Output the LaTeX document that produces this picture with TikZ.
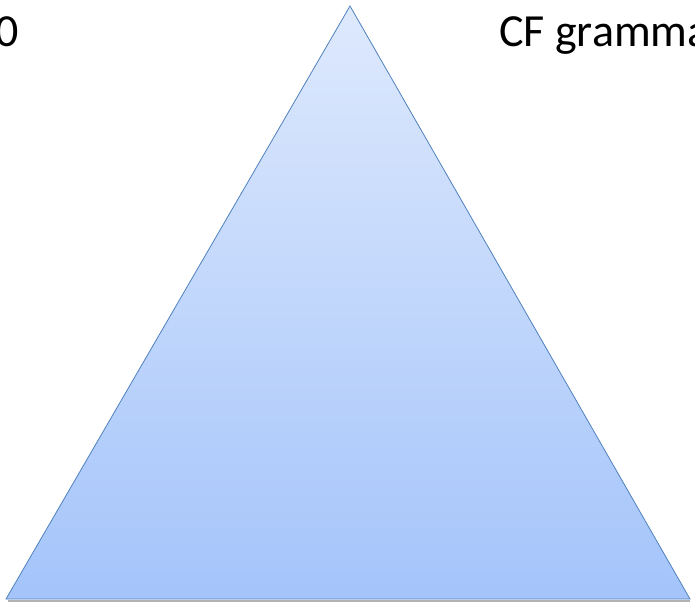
\documentclass[tikz,border=0pt]{standalone}
\usepackage{fontspec}
\setmainfont{Carlito}
\usetikzlibrary{shadings}
\definecolor{triTop}{RGB}{222,233,253}
\definecolor{triBot}{RGB}{164,196,250}
\definecolor{triLine}{RGB}{79,129,189}
\begin{document}
\begin{tikzpicture}[
    x=1pt, y=-1pt,
    label/.style={font=\fontsize{46}{54}\selectfont, inner sep=0pt},
    tri/.style={draw=triLine, line width=0.8pt, top color=triTop, bottom color=triBot}
]
\useasboundingbox (0,0) rectangle (695,602);

% Shadow and triangle
\draw[gray!60, line width=1.2pt] (8,601) -- (690,601);
\coordinate (apex) at (350,6);
\coordinate (left) at (6,599);
\coordinate (right) at (690,599);
\draw[tri] (apex) -- (right) -- (left) -- cycle;

% Labels
\node[label, anchor=base east] (zero) at (19,47) {0};
\node[label, anchor=base west] (cf) at (499,47) {CF gramma};
\end{tikzpicture}
\end{document}
